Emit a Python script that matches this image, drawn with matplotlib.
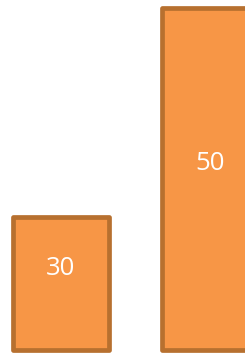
import numpy as np
import matplotlib
matplotlib.use('Agg')
import matplotlib.pyplot as plt

# data
categories = ['A', 'B']
values = [30, 50]
labels = ['30', '50']

FACE = '#F79646'
EDGE = '#B7702F'
BASE = 17.3

fig = plt.figure(figsize=(2.45, 3.54), dpi=100)
ax = fig.add_axes([0, 0, 1, 1])

xpos = np.arange(len(categories))
heights = [v - BASE for v in values]
bars = ax.bar(xpos, heights, bottom=BASE, width=0.644, color=FACE,
              edgecolor=EDGE, linewidth=3.4, joinstyle='round')

for x, v, lab in zip(xpos, values, labels):
    ax.annotate(lab, (x, BASE + (v - BASE) / 2), xytext=(0, 11),
                textcoords='offset points', ha='center', va='center',
                color='white', fontsize=18.5, family='Open Sans')

ax.set_xlim(-0.409, 1.235)
ax.set_ylim(16.9, 50.77)
ax.axis('off')

plt.savefig('out.png', dpi=100)
